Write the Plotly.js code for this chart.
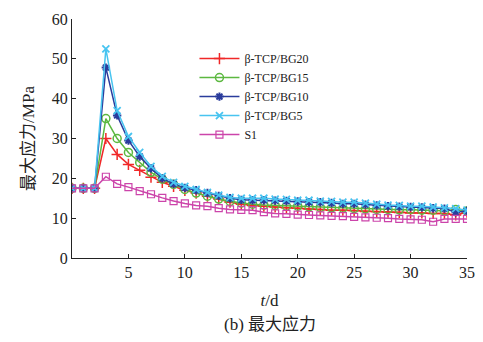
<!DOCTYPE html>
<html>
<head>
<meta charset="utf-8">
<script src="https://cdn.plot.ly/plotly-3.0.1.min.js"></script>
<style>html,body{margin:0;padding:0;background:#fff;}#chart{width:483px;height:342px;}</style>
</head>
<body>
<div id="chart"></div>
<script>
const days = [0,1,2,3,4,5,6,7,8,9,10,11,12,13,14,15,16,17,18,19,20,21,22,23,24,25,26,27,28,29,30,31,32,33,34,35];
const bg20 = [17.5,17.5,17.5,30,26,23.5,22,20.3,19,18,17,16.3,15.5,14.8,14,13.5,13.2,13,12.8,12.6,12.5,12.3,12.2,12,12,11.9,11.7,11.6,11.5,11.4,11.3,11.3,11.2,11.2,10.8,11.5];
const bg15 = [17.5,17.5,17.5,35,30,26.5,24,21.5,19.8,18.5,17.2,16.3,15.5,14.8,14.2,13.8,13.5,13.3,13.2,13,13,12.8,12.7,12.6,12.5,12.4,12.3,12.2,12.2,12.1,12.2,12,12,11.8,12.2,11.8];
const bg10 = [17.5,17.5,17.5,47.8,35.8,29.5,25.5,22.5,20,18.6,17.6,17,16.3,15.6,15,14.6,14.5,14.5,14.4,14.3,14.2,14,14,13.8,13.6,13.6,13.4,13.2,13,12.9,12.8,12.7,12.5,12.4,11.5,11.8];
const bg5  = [17.5,17.5,17.5,52.5,37,30.5,26.5,23,20.5,19,18,17.2,16.5,15.8,15.2,15,15,15,14.8,14.7,14.5,14.5,14.3,14.2,14,14,13.8,13.5,13.3,13.2,13,13,12.8,12.6,12.4,12];
const s1   = [17.5,17.5,17.5,20.4,18.6,17.8,16.8,16,15.1,14.3,13.7,13.2,13,12.5,12.2,12.1,12,11.5,11.2,11.1,10.9,10.8,10.7,10.6,10.5,10.3,10.2,10.1,10,9.8,9.7,9.6,9.1,9.8,9.8,9.8];
const names = ['β-TCP/BG20','β-TCP/BG15','β-TCP/BG10','β-TCP/BG5','S1'];
const xTicks = [5,10,15,20,25,30,35];
const yTicks = [0,10,20,30,40,50,60];

const serif = 'Liberation Serif, Times New Roman, serif';
const cjk = 'Liberation Serif, Noto Sans CJK SC, serif';

function tr(y, name, color, symbol, size, lw) {
  return {x: days, y: y, name: name, type: 'scatter', mode: 'lines+markers',
    line: {color: color, width: 1.5},
    marker: {symbol: symbol, size: size, color: color, line: {color: color, width: lw}}};
}
const data = [
  tr(bg20, names[0], '#f02828', 'cross-thin-open', 8, 1.5),
  tr(bg15, names[1], '#5cb840', 'circle-open', 8, 1.5),
  tr(bg10, names[2], '#2a3c9c', 'asterisk-open', 7, 2),
  tr(bg5, names[3], '#48c4f0', 'x-thin-open', 7, 1.8),
  tr(s1, names[4], '#cc44aa', 'square-open', 7, 1.2)
];
const layout = {
  width: 483, height: 342,
  margin: {l: 72, r: 16, t: 19, b: 84},
  paper_bgcolor: '#fff', plot_bgcolor: '#fff',
  showlegend: true,
  legend: {x: 0.31, y: 0.895, xanchor: 'left', yanchor: 'top', bgcolor: 'rgba(0,0,0,0)',
    font: {family: serif, size: 12, color: '#222'}, tracegroupgap: 0, itemwidth: 40},
  xaxis: {range: [0, 35], tickvals: xTicks, ticks: 'inside', ticklen: 4, tickcolor: '#222',
    showline: true, linecolor: '#222', linewidth: 1, showgrid: false, zeroline: false,
    tickfont: {family: serif, size: 16, color: '#222'},
    title: {text: '<i>t</i>/d', font: {family: serif, size: 17, color: '#222'}, standoff: 13}},
  yaxis: {range: [0, 60], tickvals: yTicks, ticks: 'inside', ticklen: 4, tickcolor: '#222',
    showline: true, linecolor: '#222', linewidth: 1, showgrid: false, zeroline: false,
    tickfont: {family: serif, size: 16, color: '#222'},
    title: {text: '最大应力/MPa', font: {family: cjk, size: 17, color: '#222'}, standoff: 12}},
  annotations: [{text: '(b) 最大应力', xref: 'paper', yref: 'paper', x: 0.5, y: -0.28,
    xanchor: 'center', yanchor: 'middle', showarrow: false,
    font: {family: cjk, size: 17, color: '#222'}}]
};
Plotly.newPlot('chart', data, layout, {displayModeBar: false, staticPlot: true});
</script>
</body>
</html>
